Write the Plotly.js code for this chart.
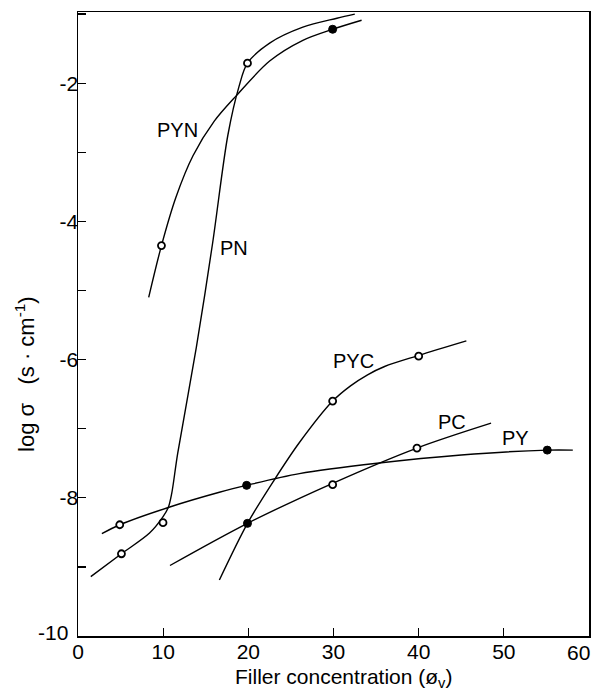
<!DOCTYPE html>
<html>
<head>
<meta charset="utf-8">
<script src="https://cdn.plot.ly/plotly-3.0.1.min.js"></script>
<style>html,body{margin:0;padding:0;background:#fff;}#chart{width:599px;height:694px;}</style>
</head>
<body>
<div id="chart"></div>
<script>
// Curve traces
const pynCurveX = [8.3, 9.8, 11.5, 13.5, 16.0, 18.6, 22.5, 26.4, 29.9, 33.3];
const pynCurveY = [-5.10, -4.35, -3.65, -3.05, -2.55, -2.18, -1.68, -1.38, -1.22, -1.09];

const pnCurveX = [1.5, 5.1, 8.4, 9.95, 10.6, 11.0, 11.7, 13.9, 15.8, 17.6, 18.9, 19.9, 22.5, 26.4, 30.4, 32.5];
const pnCurveY = [-9.14, -8.81, -8.51, -8.28, -8.14, -7.94, -7.36, -5.82, -4.32, -2.75, -2.05, -1.71, -1.42, -1.19, -1.06, -1.0];

const pyCurveX = [2.8, 4.9, 10.6, 16.6, 19.8, 26.0, 35.1, 45.0, 55.1, 58.1];
const pyCurveY = [-8.52, -8.39, -8.14, -7.92, -7.82, -7.65, -7.50, -7.38, -7.31, -7.31];

const pcCurveX = [10.8, 19.9, 29.9, 39.8, 48.5];
const pcCurveY = [-8.98, -8.37, -7.79, -7.28, -6.92];

const pycCurveX = [16.6, 19.9, 23.0, 26.0, 29.9, 32.0, 34.0, 36.0, 40.0, 45.6];
const pycCurveY = [-9.19, -8.37, -7.75, -7.20, -6.60, -6.38, -6.22, -6.10, -5.94, -5.73];

// Measured points
const openX = [9.8, 19.9, 5.1, 9.98, 4.9, 29.9, 39.8, 29.9, 40.0];
const openY = [-4.35, -1.71, -8.81, -8.36, -8.39, -7.81, -7.28, -6.60, -5.95];
const filledX = [29.9, 19.8, 55.1, 19.9];
const filledY = [-1.22, -7.82, -7.31, -8.37];

// Curve labels
const labelText = ["PYN", "PN", "PYC", "PC", "PY"];
const labelX = [11.7, 18.3, 32.3, 43.9, 51.4];
const labelY = [-2.68, -4.38, -6.02, -6.91, -7.14];

// Axis ticks (edge ticks 60 and -10 are drawn as separate labels)
const xTicks = [0, 10, 20, 30, 40, 50];
const xEdgeTick = 60;
const xEdgeTickText = "60";
const yTicks = [-8, -6, -4, -2];
const yTickText = ["-8", "-6", "-4", "-2"];
const yEdgeTick = -10;
const yEdgeTickText = "-10";

const lineStyle = {color: "#000", width: 1.4, shape: "spline", smoothing: 0.9};
function curve(x, y) {
  return {x: x, y: y, mode: "lines", type: "scatter", line: lineStyle, hoverinfo: "skip"};
}

const traces = [
  curve(pynCurveX, pynCurveY),
  curve(pnCurveX, pnCurveY),
  curve(pyCurveX, pyCurveY),
  curve(pcCurveX, pcCurveY),
  curve(pycCurveX, pycCurveY),
  {x: openX, y: openY, mode: "markers", type: "scatter",
   marker: {symbol: "circle", size: 7, color: "#fff", line: {color: "#000", width: 1.8}}},
  {x: filledX, y: filledY, mode: "markers", type: "scatter",
   marker: {symbol: "circle", size: 8, color: "#000", line: {color: "#000", width: 1}}}
];

const font = "Liberation Sans, Arial, sans-serif";
const annotations = labelText.map((t, i) => ({
  x: labelX[i], y: labelY[i], xref: "x", yref: "y", text: t, showarrow: false,
  font: {family: font, size: 20, color: "#000"}
}));
annotations.push({
  x: xEdgeTick, xref: "x", xanchor: "right", xshift: 3,
  y: -0.026, yref: "paper", yanchor: "middle", text: xEdgeTickText, showarrow: false,
  font: {family: font, size: 21, color: "#000"}
});
annotations.push({
  x: 0, xref: "paper", xanchor: "right", xshift: -8,
  y: yEdgeTick, yref: "y", yanchor: "middle", yshift: 4, text: yEdgeTickText, showarrow: false,
  font: {family: font, size: 21, color: "#000"}
});
annotations.push({
  xref: "paper", yref: "paper", x: 0.52, y: -0.068, yanchor: "middle",
  text: "Filler concentration (ø<sub>v</sub>)", showarrow: false,
  font: {family: font, size: 21, color: "#000"}
});
annotations.push({
  xref: "paper", yref: "paper", x: -0.135, y: 0.42, textangle: -90,
  text: "log σ   (s · cm<sup>-1</sup>)", showarrow: false,
  font: {family: font, size: 22, color: "#000"}
});

const layout = {
  width: 599, height: 694,
  margin: {l: 78, r: 10, t: 12, b: 58},
  paper_bgcolor: "#fff", plot_bgcolor: "#fff",
  showlegend: false,
  font: {family: font, color: "#000"},
  xaxis: {
    range: [0, 60], tickvals: xTicks, ticks: "inside", ticklen: 8, tickwidth: 1.3,
    tickcolor: "#000", showline: true, linecolor: "#000", linewidth: 1.5, mirror: true, showgrid: false,
    zeroline: false, ticklabelstandoff: -4,
    tickfont: {family: font, size: 21, color: "#000"}
  },
  yaxis: {
    range: [-10, -0.97], tickvals: yTicks, ticktext: yTickText, ticks: "inside", ticklen: 8, tickwidth: 1.3,
    tickcolor: "#000", showline: true, linecolor: "#000", linewidth: 1.5, mirror: true, showgrid: false,
    zeroline: false, tickfont: {family: font, size: 21, color: "#000"}, ticklabelstandoff: -6,
    minor: {dtick: 1, tick0: -10, ticks: "inside", ticklen: 8, tickwidth: 1.3, tickcolor: "#000", showgrid: false}
  },
  annotations: annotations
};

Plotly.newPlot("chart", traces, layout, {displayModeBar: false, staticPlot: true});
</script>
</body>
</html>
